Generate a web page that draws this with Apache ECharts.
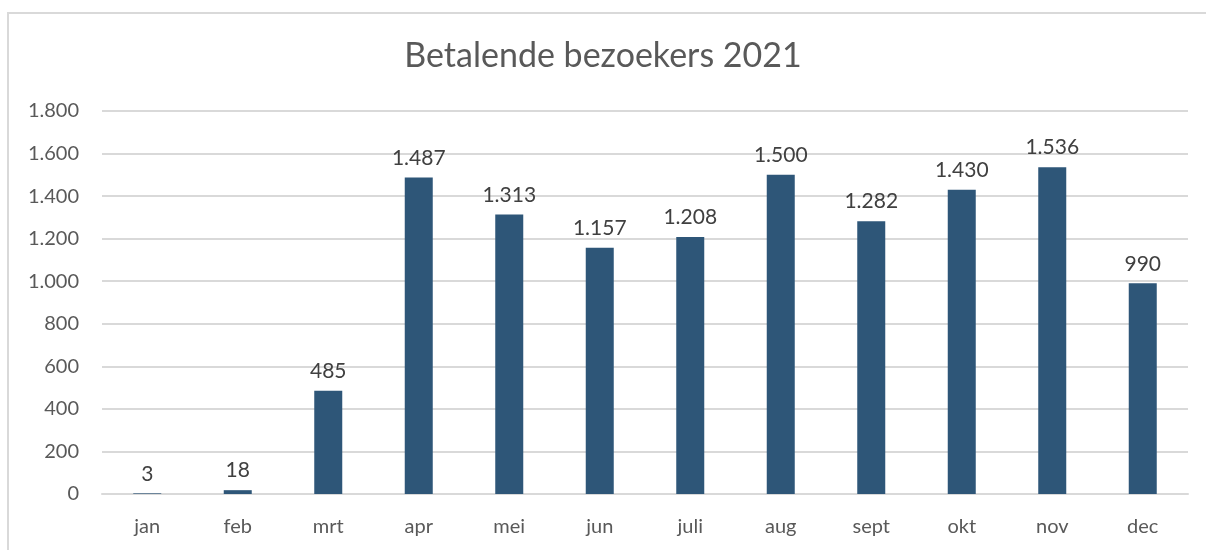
<!DOCTYPE html>
<html lang="nl">
<head>
    <meta charset="UTF-8">
    <title>Betalende bezoekers 2021</title>
    <script src="https://cdn.jsdelivr.net/npm/echarts@6/dist/echarts.min.js"></script>
    <style>
        body {
            margin: 0;
            background: #ffffff;
        }
        #frame {
            position: absolute;
            left: 7px;
            top: 12px;
            width: 1210px;
            height: 560px;
            border: 2px solid #D9D9D9;
        }
        #chart {
            position: absolute;
            left: 0;
            top: 0;
            width: 1206px;
            height: 550px;
        }
    </style>
</head>
<body>
    <div id="frame"></div>
    <div id="chart"></div>

    <script>
        // Data
        const months = ['jan', 'feb', 'mrt', 'apr', 'mei', 'jun', 'juli', 'aug', 'sept', 'okt', 'nov', 'dec'];
        const visitors = [3, 18, 485, 1487, 1313, 1157, 1208, 1500, 1282, 1430, 1536, 990];

        // Dutch thousands separator: 1.800
        function fmt(v) {
            return String(v).replace(/\B(?=(\d{3})+(?!\d))/g, '.');
        }

        const chart = echarts.init(document.getElementById('chart'));
        chart.setOption({
            animation: false,
            textStyle: { fontFamily: 'Lato, "Open Sans", sans-serif' },
            title: {
                text: 'Betalende bezoekers 2021',
                left: 'center',
                top: 34,
                textStyle: {
                    color: '#595959',
                    fontSize: 34,
                    fontWeight: 'normal',
                    fontFamily: 'Lato, "Open Sans", sans-serif'
                }
            },
            grid: {
                left: 102,
                right: 18,
                top: 111,
                bottom: 56
            },
            xAxis: {
                type: 'category',
                data: months,
                axisLine: { lineStyle: { color: '#D9D9D9', width: 2 } },
                axisTick: { show: false },
                axisLabel: { color: '#595959', fontSize: 20, margin: 23 }
            },
            yAxis: {
                type: 'value',
                min: 0,
                max: 1800,
                interval: 200,
                axisLine: { show: false },
                axisTick: { show: false },
                splitLine: { lineStyle: { color: '#D9D9D9', width: 2 } },
                axisLabel: {
                    color: '#595959',
                    fontSize: 20,
                    margin: 23,
                    formatter: fmt
                }
            },
            series: [{
                type: 'bar',
                data: visitors,
                barWidth: 28,
                itemStyle: { color: '#2E5678' },
                label: {
                    show: true,
                    position: 'top',
                    distance: 9,
                    color: '#404040',
                    fontSize: 21,
                    formatter: p => fmt(p.value)
                }
            }]
        });
    </script>
</body>
</html>
